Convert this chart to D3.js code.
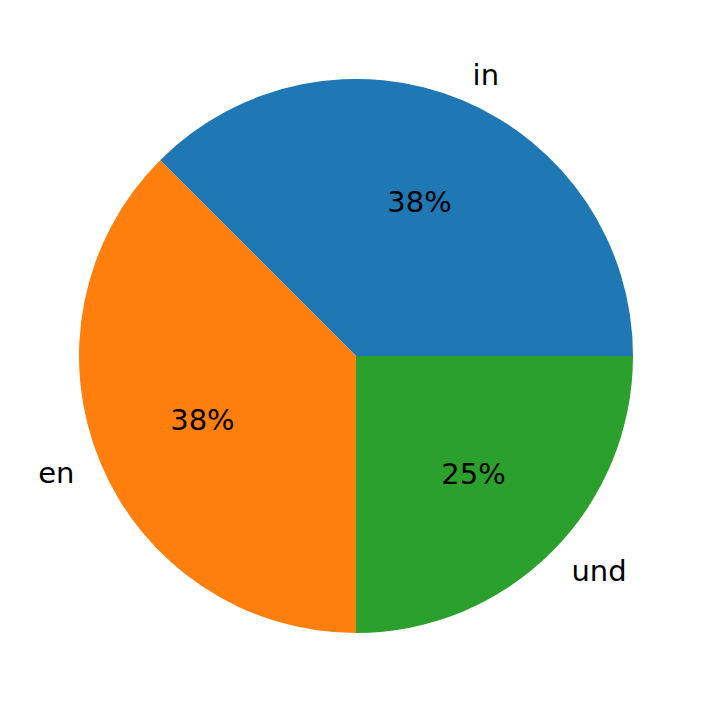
<!DOCTYPE html>
<html><head><meta charset="utf-8">
<script src="https://cdn.jsdelivr.net/npm/d3@7"></script>
<style>body{margin:0;background:#fff}</style>
</head><body>
<svg id="chart" width="712" height="713"></svg>
<script>
// language counts
const labels = ["in", "en", "und"];
const counts = [3, 3, 2];
const colors = ["#1f77b4", "#ff7f0e", "#2ca02c"];

const svg = d3.select("#chart");
const cx = 356, cy = 356, r = 277;
const g = svg.append("g").attr("transform", `translate(${cx},${cy})`);

// matplotlib style: start at east, go counterclockwise
const pie = d3.pie().sort(null)
    .startAngle(Math.PI / 2)
    .endAngle(Math.PI / 2 - 2 * Math.PI);
const arcs = pie(counts);
const total = d3.sum(counts);

g.selectAll("path")
    .data(arcs)
    .enter().append("path")
    .attr("d", d3.arc().innerRadius(0).outerRadius(r))
    .attr("fill", (d, i) => colors[i]);

function pos(d, k) {
    const a = (d.startAngle + d.endAngle) / 2;
    return [k * r * Math.sin(a), -k * r * Math.cos(a)];
}

g.selectAll("text.lab")
    .data(arcs)
    .enter().append("text")
    .attr("class", "lab")
    .attr("x", d => pos(d, 1.1)[0])
    .attr("y", d => pos(d, 1.1)[1])
    .attr("text-anchor", d => pos(d, 1.1)[0] > 0 ? "start" : "end")
    .attr("dominant-baseline", "central")
    .style("font-family", "DejaVu Sans")
    .style("font-size", "29px")
    .text((d, i) => labels[i]);

g.selectAll("text.pct")
    .data(arcs)
    .enter().append("text")
    .attr("class", "pct")
    .attr("x", d => pos(d, 0.6)[0])
    .attr("y", d => pos(d, 0.6)[1])
    .attr("text-anchor", "middle")
    .attr("dominant-baseline", "central")
    .style("font-family", "DejaVu Sans")
    .style("font-size", "29px")
    .text(d => Math.round(d.value / total * 100) + "%");
</script>
</body></html>
